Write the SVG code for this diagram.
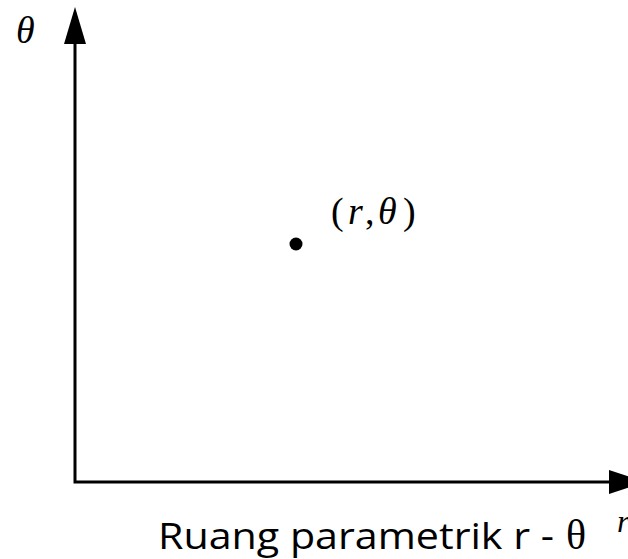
<svg xmlns="http://www.w3.org/2000/svg" width="628" height="559" viewBox="0 0 628 559">
<style>
.axis{stroke:#000;stroke-width:3;fill:none}
.head{fill:#000}
.math{font-family:"Liberation Serif","Times New Roman",serif;fill:#000}
.it{font-style:italic}
.cap{font-family:"Open Sans","Liberation Sans",sans-serif;fill:#000}
</style>
<rect width="628" height="559" fill="#fff"/>
<g id="connectors">
<path class="axis" d="M75,40 V482 H612"/>
<polygon class="head" points="75,7 64,44 86,44"/>
<polygon class="head" points="646,482 609,470 609,494"/>
</g>
<g id="theta-axis-label">
<text class="math it" x="16" y="43" font-size="38">θ</text>
</g>
<g id="point">
<circle cx="296" cy="244" r="6.5" fill="#000"/>
<text class="math" x="331" y="224" font-size="38"><tspan>(</tspan><tspan class="it" x="348">r</tspan><tspan x="365">,</tspan><tspan class="it" x="378">θ</tspan><tspan x="403">)</tspan></text>
</g>
<g id="r-axis-label">
<text class="math it" x="617" y="532" font-size="32">r</text>
</g>
<g id="caption">
<text class="cap" x="158" y="549" font-size="36" textLength="396" lengthAdjust="spacingAndGlyphs">Ruang parametrik r -</text>
<text class="math" x="566" y="549" font-size="42">θ</text>
</g>
</svg>
